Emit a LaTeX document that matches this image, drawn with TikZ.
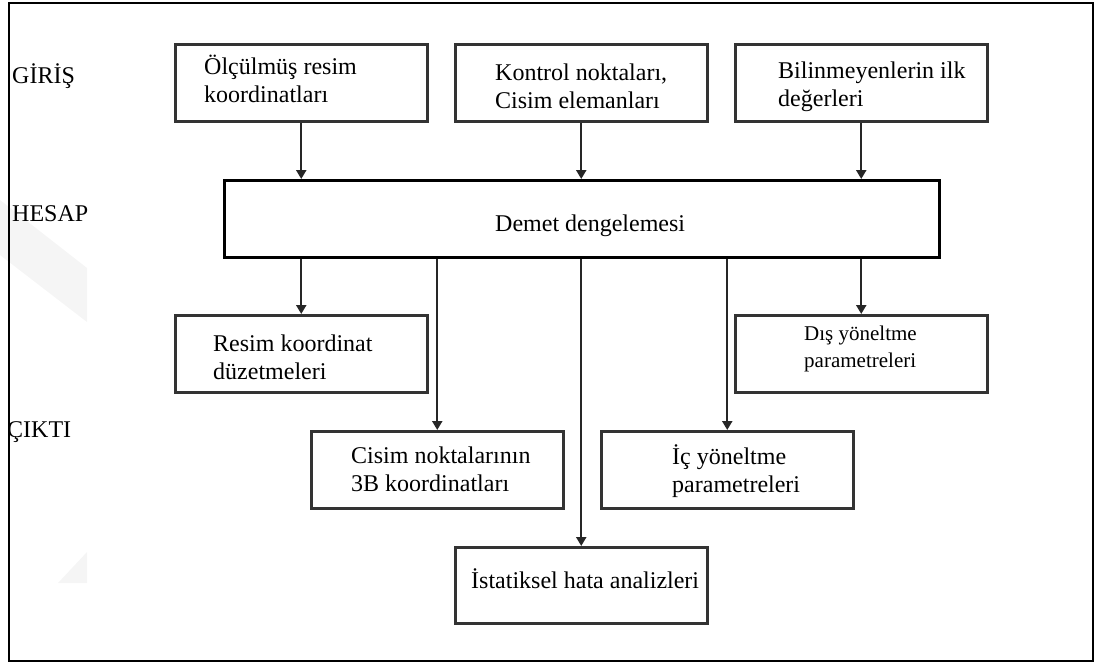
\documentclass[tikz,border=0pt]{standalone}
\usepackage{fontspec}
\setmainfont{Liberation Serif}
\usetikzlibrary{arrows.meta}
\begin{document}
\begin{tikzpicture}[x=1pt,y=-1pt,
  box/.style={draw=black!80,line width=2.5pt,inner sep=0pt,anchor=north west,minimum width=252pt,minimum height=77pt},
  bigbox/.style={draw=black,line width=3.4pt,inner sep=0pt,anchor=north west,minimum width=715pt,minimum height=77pt},
  lbl/.style={anchor=base west,inner sep=0pt,align=left,font=\fontsize{24}{28}\selectfont},
  smlbl/.style={anchor=base west,inner sep=0pt,align=left,font=\fontsize{21}{27}\selectfont},
  arr/.style={-{Triangle[width=10pt,length=9pt]},line width=2.4pt,draw=black!85,fill=black!85},
  wm/.style={fill=black!4,draw=none}]
\useasboundingbox (0,0) rectangle (1096,664);
% faint watermark
\fill[wm] (0,200) -- (87,268) -- (87,322) -- (0,255) -- cycle;
\fill[wm] (87,552) -- (58,583) -- (87,583) -- cycle;
% outer frame
\draw[line width=2.6pt] (9,3) rectangle (1093,661);
% side labels
\node[lbl] (giris) at (12,83) {GİRİŞ};
\node[lbl] (hesap) at (12,221) {HESAP};
\node[lbl] (cikti) at (7,437) {ÇIKTI};
% input boxes
\node[box] (b1) at (174,43) {};
\node[box] (b2) at (454,43) {};
\node[box] (b3) at (734,43) {};
\node[lbl] (t1) at (204,102) {Ölçülmüş resim\\koordinatları};
\node[lbl] (t2) at (495,108) {Kontrol noktaları,\\Cisim elemanları};
\node[lbl] (t3) at (778,106) {Bilinmeyenlerin ilk\\değerleri};
% main box
\node[bigbox] (dem) at (223,179) {};
\node[lbl] (td) at (495,231) {Demet dengelemesi};
% output boxes
\node[box] (r1) at (174,314) {};
\node[box] (r2) at (310,430) {};
\node[box,minimum height=76pt] (r3) at (454,546) {};
\node[box] (r4) at (600,430) {};
\node[box] (r5) at (734,314) {};
\node[lbl] (t4) at (213,379) {Resim koordinat\\düzetmeleri};
\node[lbl] (t5) at (351,491) {Cisim noktalarının\\3B koordinatları};
\node[lbl] (t8) at (471,588) {İstatiksel hata analizleri};
\node[lbl] (t6) at (672,492) {İç yöneltme\\parametreleri};
\node[smlbl] (t7) at (804,367) {Dış yöneltme\\parametreleri};
% arrows in
\draw[arr] (b1.south) -- (b1.south |- dem.north);
\draw[arr] (b2.south) -- (b2.south |- dem.north);
\draw[arr] (b3.south) -- (b3.south |- dem.north);
% arrows out
\draw[arr] (dem.south -| r1.north) -- (r1.north);
\draw[arr] (dem.south -| r2.north) -- (r2.north);
\draw[arr] (dem.south -| r3.north) -- (r3.north);
\draw[arr] (dem.south -| r4.north) -- (r4.north);
\draw[arr] (dem.south -| r5.north) -- (r5.north);
\end{tikzpicture}
\end{document}
